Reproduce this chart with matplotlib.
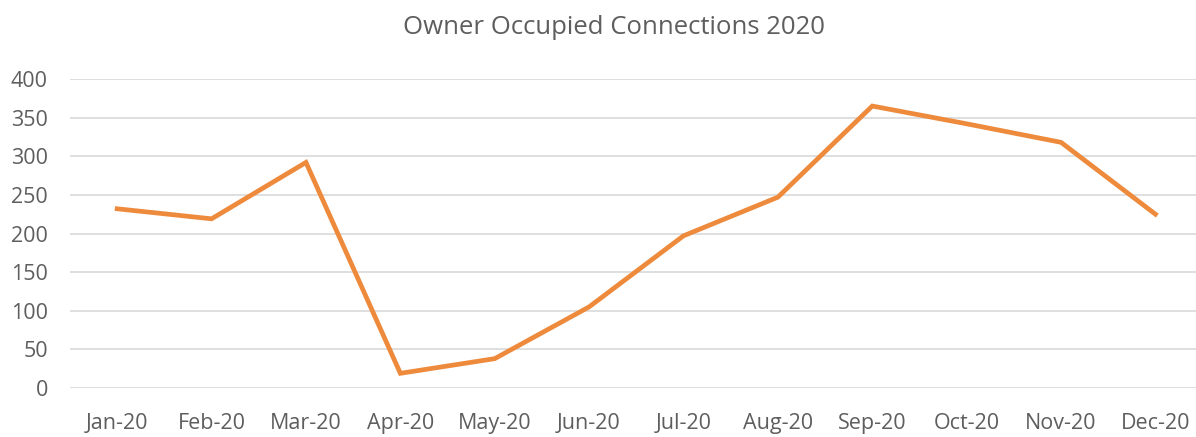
import matplotlib.pyplot as plt
import numpy as np

# Data
months = ['Jan-20', 'Feb-20', 'Mar-20', 'Apr-20', 'May-20', 'Jun-20',
          'Jul-20', 'Aug-20', 'Sep-20', 'Oct-20', 'Nov-20', 'Dec-20']
connections = [232, 219, 292, 19, 38, 105, 197, 247, 365, 342, 318, 225]
y_ticks = [0, 50, 100, 150, 200, 250, 300, 350, 400]

plt.rcParams['font.family'] = ['Open Sans', 'DejaVu Sans']

fig = plt.figure(figsize=(11.96, 4.37), dpi=100)
ax = fig.add_axes([70 / 1196, (437 - 388) / 437, (1196 - 70) / 1196, (388 - 79) / 437])

x = np.arange(len(months))
ax.plot(x, connections, color='#EE8A3C', linewidth=3.4, solid_joinstyle='miter')

ax.set_xlim(-0.5, 11.43)
ax.set_ylim(0, 400)
ax.set_xticks(x)
ax.set_xticklabels(months)
ax.set_yticks(y_ticks)
ax.tick_params(axis='both', length=0, labelsize=15.5, colors='#5E5E5E')
ax.tick_params(axis='x', pad=18)
ax.tick_params(axis='y', pad=16)

ax.grid(axis='y', color='#D9D9D9', linewidth=1.2)
ax.set_axisbelow(True)
for s in ax.spines.values():
    s.set_visible(False)

fig.text(614 / 1196, 1 - 28 / 437, 'Owner Occupied Connections 2020',
         ha='center', va='center', fontsize=18.5, color='#5E5E5E')

fig.savefig('out.png', dpi=100)
